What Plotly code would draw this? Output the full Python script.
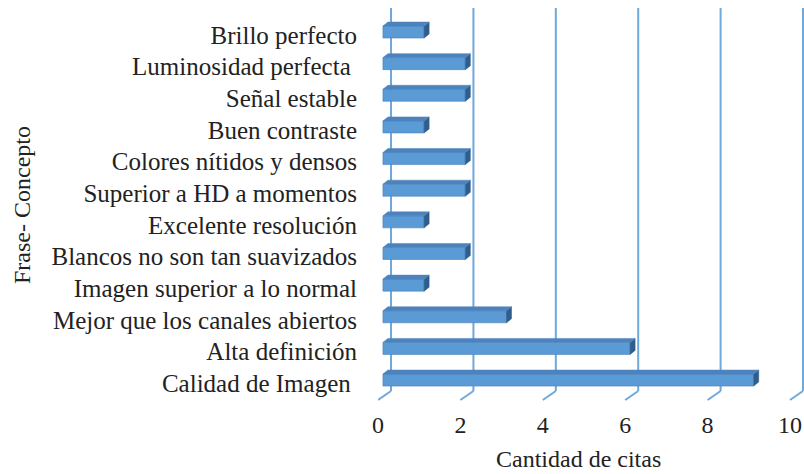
import plotly.graph_objects as go

# Categories (top to bottom) and number of citations per phrase
conceptos = [
    "Brillo perfecto",
    "Luminosidad perfecta ",
    "Señal estable",
    "Buen contraste",
    "Colores nítidos y densos",
    "Superior a HD a momentos",
    "Excelente resolución",
    "Blancos no son tan suavizados",
    "Imagen superior a lo normal",
    "Mejor que los canales abiertos",
    "Alta definición",
    "Calidad de Imagen ",
]
citas = [1, 2, 2, 1, 2, 2, 1, 2, 1, 3, 6, 9]
x_ticks = [0, 2, 4, 6, 8, 10]

FONT = "Liberation Serif, Times New Roman, serif"
FRONT = "#5B9BD5"
SIDE = "#2F5D8C"
TOP = "#4C83BD"
GRID = "#6FA8DC"

idx = list(range(len(conceptos)))

# bar geometry in data units
BAR_W = 0.38
BAR_OFF = -0.285
SHIFT = 0.12  # bars stand half-way into the depth of the floor
DX = 0.121    # depth of a bar along x
DY = 0.126    # depth of a bar along y (upwards)

fig = go.Figure()

fig.add_trace(go.Bar(
    y=idx, x=citas, base=SHIFT, orientation="h",
    width=BAR_W, offset=BAR_OFF,
    marker=dict(color=FRONT, line=dict(color="#4A7EBB", width=0.6)),
    hoverinfo="skip", showlegend=False,
))

# side and top faces giving the bars their depth
sx, sy, tx, ty = [], [], [], []
for i, v in zip(idx, citas):
    top = i + BAR_OFF
    bot = top + BAR_W
    x0, x1 = SHIFT, SHIFT + v
    sx += [x1, x1, x1 + DX, x1 + DX, x1, None]
    sy += [top, bot, bot - DY, top - DY, top, None]
    tx += [x0, x1, x1 + DX, x0 + DX, x0, None]
    ty += [top, top, top - DY, top - DY, top, None]

fig.add_trace(go.Scatter(x=sx, y=sy, mode="lines", fill="toself",
                         fillcolor=SIDE, line=dict(color=SIDE, width=0.5),
                         hoverinfo="skip", showlegend=False))
fig.add_trace(go.Scatter(x=tx, y=ty, mode="lines", fill="toself",
                         fillcolor=TOP, line=dict(color=TOP, width=0.5),
                         hoverinfo="skip", showlegend=False))

# back-wall gridlines and floor segments
BACK_DX = 0.316
Y_TOP = -0.853
Y_BACK_FLOOR = 11.25
Y_FRONT_FLOOR = 11.536
shapes = []
for t in x_ticks:
    shapes.append(dict(type="line", xref="x", yref="y", layer="below",
                       x0=t + BACK_DX, x1=t + BACK_DX, y0=Y_TOP, y1=Y_BACK_FLOOR,
                       line=dict(color=GRID, width=2)))
    shapes.append(dict(type="line", xref="x", yref="y", layer="below",
                       x0=t, x1=t + BACK_DX, y0=Y_FRONT_FLOOR, y1=Y_BACK_FLOOR,
                       line=dict(color=GRID, width=2)))

W, H = 804, 474
L, R, T, B = 378, 0, 8, 72
FS = 24

fig.update_layout(
    width=W, height=H,
    margin=dict(l=L, r=R, t=T, b=B),
    paper_bgcolor="white", plot_bgcolor="white",
    font=dict(family=FONT, size=FS, color="#222222"),
    shapes=shapes,
    xaxis=dict(range=[0, 10.34], tickvals=x_ticks, ticktext=[str(t) for t in x_ticks],
               showgrid=False, zeroline=False, showline=False, ticks="",
               ticklabelstandoff=6, tickfont=dict(size=FS)),
    yaxis=dict(range=[11.599, -0.853], tickvals=idx, ticktext=conceptos,
               showgrid=False, zeroline=False, showline=False, ticks="",
               ticklabelstandoff=20, tickfont=dict(size=25)),
    annotations=[
        dict(text="Cantidad de citas", xref="paper", yref="paper",
             x=(578 - L) / (W - L - R), y=-(459 - (H - B)) / (H - T - B),
             xanchor="center", yanchor="middle", showarrow=False,
             font=dict(size=FS)),
        dict(text="Frase- Concepto", xref="paper", yref="paper",
             x=-(L - 22) / (W - L - R), y=1 - (205 - T) / (H - T - B),
             xanchor="center", yanchor="middle", textangle=-90, showarrow=False,
             font=dict(size=FS)),
    ],
)

fig.write_html("out.html")
